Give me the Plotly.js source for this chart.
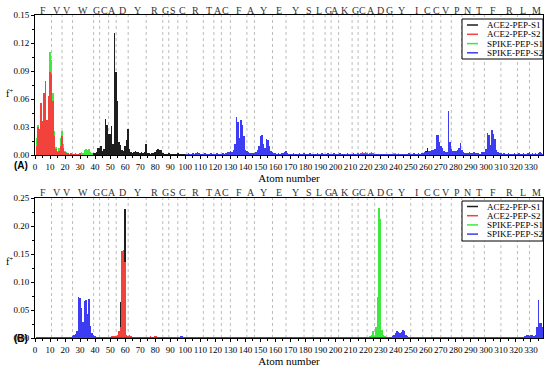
<!DOCTYPE html>
<html><head><meta charset="utf-8">
<script src="https://cdn.plot.ly/plotly-3.0.1.min.js"></script>
<style>html,body{margin:0;padding:0;background:#fff}#chart{width:550px;height:370px}</style>
</head><body><div id="chart"></div>
<script>
// Residue letters and atom-number boundaries between residues
const residues = ['F','V','V','W','G','C','A','D','Y','R','G','S','C','R','T','A','C','F','A','Y','E','Y','S','L','G','A','K','G','C','A','D','G','Y','I','C','C','V','P','N','T','F','R','L','M'];
const residueBounds = [0,11,18,25,39,43,49,54,62,74,85,89,95,101,112,119,124,130,141,146,158,167,179,185,193,197,202,211,215,221,226,234,238,250,258,264,270,277,284,292,299,310,321,329,338];
const seriesNames = ['ACE2-PEP-S1','ACE2-PEP-S2','SPIKE-PEP-S1','SPIKE-PEP-S2'];
const seriesColors = ['#1e1e1e','#f2423c','#3ee83e','#3c3cf2'];

// ---- Panel A: runs of consecutive atoms (start atom, values) ----
const topAce2S1Starts = [38, 256];
const topAce2S1F = [
 [0.001,0.002,0.002,0.003,0.008,0.007,0.010,0.004,0.006,0.039,0.032,0.023,0.023,0.031,0.012,0.131,0.089,0.058,0.014,0.011,
  0.005,0.004,0.010,0.016,0.028,0.006,0.003,0.002,0.003,0.004,0.003,0.003,0.002,0.003,0.002,0.003,0.012,0.002,0.002,0.001,
  0.002,0.002,0.003,0.005,0.006,0.005,0.005,0.002,0.001,0.001,0.001,0.002,0.001,0.001,0.001,0.001,0.001,0.002,0.001,0.001,
  0.001,0.001,0.001],
 [0.001,0.002,0.002,0.003,0.004,0.008,0.004,0.002,0.001]
];
const topAce2S2Starts = [1, 214];
const topAce2S2F = [
 [0.010,0.030,0.028,0.056,0.036,0.066,0.079,0.037,0.063,0.089,0.087,0.058,0.020,0.006,0.003,0.004,0.010,0.020,0.007,0.003,
  0.002,0.002,0.001,0.002,0.001,0.001,0.002,0.001,0.001,0.002],
 [0.001,0.002,0.001,0.002,0.003,0.002,0.003,0.002,0.001,0.002,0.003,0.002,0.001]
];
const topSpikeS1Starts = [1, 30, 238];
const topSpikeS1F = [
 [0.018,0.032,0.028,0.056,0.036,0.066,0.079,0.037,0.063,0.110,0.102,0.066,0.026,0.009,0.004,0.008,0.018,0.026,0.012,0.004,
  0.003,0.002],
 [0.002,0.003,0.002,0.005,0.006,0.005,0.006,0.003,0.002],
 [0.001,0.002,0.002,0.001,0.002,0.001]
];
const topSpikeS2Starts = [100];
const topSpikeS2F = [[
 0.001,0.001,0.002,0.001,0.001,0.002,0.001,0.002,0.003,0.002,
 0.001,0.001,0.001,0.002,0.001,0.001,0.001,0.002,0.001,0.001,
 0.001,0.002,0.001,0.001,0.001,0.002,0.001,0.002,0.003,0.003,
 0.004,0.003,0.005,0.012,0.041,0.035,0.018,0.038,0.032,0.020,
 0.005,0.004,0.003,0.002,0.002,0.002,0.002,0.003,0.005,0.010,
 0.020,0.021,0.012,0.008,0.017,0.016,0.010,0.004,0.003,0.002,
 0.002,0.001,0.002,0.001,0.002,0.002,0.003,0.004,0.002,0.001,
 0.001,0.001,0.002,0.001,0.001,0.001,0.002,0.001,0.001,0.002,
 0.001,0.001,0.001,0.002,0.001,0.001,0.001,0.001,0.002,0.001,
 0.001,0.002,0.001,0.001,0.001,0.002,0.001,0.001,0.001,0.002,
 0.001,0.001,0.001,0.002,0.001,0.001,0.001,0.001,0.002,0.001,
 0.001,0.001,0.002,0.001,0.001,0.001,0.001,0.001,0.001,0.001,
 0.001,0.001,0.001,0.001,0.001,0.001,0.001,0.001,0.001,0.001,
 0.001,0.001,0.001,0.001,0.001,0.001,0.001,0.001,0.001,0.001,
 0.001,0.001,0.001,0.001,0.001,0.001,0.001,0.001,0.001,0.002,
 0.001,0.001,0.002,0.001,0.001,0.002,0.001,0.002,0.002,0.003,
 0.003,0.003,0.004,0.004,0.005,0.005,0.006,0.021,0.021,0.014,
 0.010,0.007,0.004,0.003,0.003,0.047,0.014,0.006,0.004,0.004,
 0.004,0.005,0.008,0.013,0.005,0.003,0.002,0.002,0.002,0.003,
 0.002,0.002,0.003,0.002,0.002,0.002,0.001,0.003,0.003,0.003,
 0.006,0.024,0.021,0.011,0.027,0.022,0.017,0.005,0.003,0.002,
 0.002,0.001,0.002,0.001,0.001,0.002,0.001,0.001,0.001,0.002,
 0.001,0.001,0.002,0.001,0.001,0.002,0.001,0.001,0.002,0.003,
 0.001,0.002,0.001,0.002,0.001,0.002,0.003,0.002,0.001]];

// ---- Panel B ----
const botAce2S1Starts = [55];
const botAce2S1F = [[0.001,0.002,0.065,0.003,0.005,0.231,0.004,0.002]];
const botAce2S2Starts = [50];
const botAce2S2F = [[
 0.002,0.003,0.003,0.004,0.004,0.005,0.013,0.020,0.155,0.157,
 0.135,0.006,0.004,0.005,0.003,0.002,0.002,0.001,0.002,0.001,
 0.001,0.001,0.002,0.001,0.001,0.002,0.002,0.003,0.002,0.002,
 0.003,0.003,0.002,0.002,0.001,0.001]];
const botSpikeS1Starts = [218];
const botSpikeS1F = [[0.001,0.001,0.002,0.002,0.002,0.004,0.006,0.012,0.004,0.020,0.074,0.233,0.213,0.015,0.006,0.003,0.002,0.002,0.001]];
const botSpikeS2Starts = [1];
const botSpikeS2F = [[
 0.001,0.001,0.001,0.001,0.001,0.001,0.001,0.002,0.001,0.001,
 0.001,0.001,0.001,0.001,0.001,0.001,0.002,0.001,0.001,0.001,
 0.001,0.002,0.001,0.002,0.004,0.006,0.008,0.012,0.074,0.072,
 0.054,0.028,0.066,0.068,0.042,0.069,0.022,0.009,0.005,0.003,
 0.002,0.001,0.001,0.002,0.001,0.001,0.001,0.002,0.001,0.001,
 0.001,0.001,0.001,0.001,0.001,0.001,0.001,0.001,0.001,0.001,
 0.001,0.001,0.001,0.001,0.001,0.002,0.001,0.001,0.001,0.001,
 0.001,0.001,0.001,0.001,0.001,0.001,0.001,0.001,0.001,0.001,
 0.001,0.001,0.001,0.001,0.001,0.001,0.001,0.001,0.001,0.001,
 0.001,0.001,0.001,0.001,0.001,0.002,0.004,0.003,0.001,0.001,
 0.001,0.001,0.001,0.001,0.002,0.001,0.001,0.001,0.001,0.001,
 0.001,0.002,0.001,0.001,0.001,0.001,0.001,0.001,0.001,0.001,
 0.001,0.001,0.001,0.001,0.001,0.001,0.001,0.001,0.001,0.001,
 0.001,0.001,0.001,0.002,0.001,0.001,0.001,0.001,0.001,0.001,
 0.001,0.001,0.001,0.001,0.001,0.001,0.001,0.001,0.001,0.001,
 0.001,0.001,0.001,0.001,0.001,0.001,0.001,0.001,0.001,0.001,
 0.001,0.001,0.001,0.001,0.001,0.001,0.001,0.002,0.001,0.001,
 0.001,0.001,0.001,0.001,0.001,0.001,0.001,0.001,0.001,0.001,
 0.001,0.001,0.001,0.001,0.001,0.001,0.001,0.001,0.001,0.001,
 0.001,0.001,0.001,0.001,0.001,0.001,0.001,0.001,0.001,0.001,
 0.001,0.001,0.001,0.001,0.001,0.001,0.001,0.001,0.001,0.001,
 0.001,0.001,0.001,0.001,0.001,0.002,0.001,0.001,0.001,0.002,
 0.001,0.001,0.001,0.001,0.001,0.001,0.001,0.001,0.001,0.001,
 0.001,0.001,0.001,0.001,0.001,0.001,0.002,0.003,0.006,0.009,
 0.012,0.010,0.009,0.011,0.014,0.012,0.005,0.003,0.002,0.001,
 0.001,0.001,0.001,0.001,0.001,0.001,0.001,0.001,0.001,0.001,
 0.001,0.001,0.001,0.001,0.001,0.001,0.001,0.001,0.001,0.001,
 0.001,0.001,0.001,0.001,0.001,0.001,0.001,0.001,0.001,0.001,
 0.001,0.001,0.001,0.001,0.001,0.001,0.001,0.001,0.001,0.001,
 0.001,0.001,0.001,0.001,0.001,0.001,0.001,0.001,0.001,0.001,
 0.001,0.001,0.001,0.001,0.002,0.001,0.001,0.001,0.001,0.001,
 0.001,0.001,0.001,0.001,0.001,0.001,0.001,0.001,0.002,0.001,
 0.001,0.001,0.001,0.001,0.002,0.003,0.006,0.005,0.004,0.005,
 0.005,0.003,0.006,0.020,0.068,0.027,0.026,0.020]];

function expand(starts, runs){
  const x=[], y=[];
  runs.forEach((r,k)=>r.forEach((v,i)=>{x.push(starts[k]+i); y.push(v);}));
  return {x,y};
}
const SERIF = 'Liberation Serif';
const panels = [
  {xa:'x', ya:'y', letterPy:10, data:[[topAce2S1Starts,topAce2S1F],[topAce2S2Starts,topAce2S2F],[topSpikeS1Starts,topSpikeS1F],[topSpikeS2Starts,topSpikeS2F]]},
  {xa:'x2', ya:'y2', letterPy:193, data:[[botAce2S1Starts,botAce2S1F],[botAce2S2Starts,botAce2S2F],[botSpikeS1Starts,botSpikeS1F],[botSpikeS2Starts,botSpikeS2F]]}
];
const drawOrder = [0,2,1,3];
const traces = [];
panels.forEach(p=>{
  drawOrder.forEach(s=>{
    const d = expand(p.data[s][0], p.data[s][1]);
    traces.push({type:'bar', x:d.x, y:d.y, xaxis:p.xa, yaxis:p.ya, width:1,
      marker:{color:seriesColors[s], line:{width:0}}, showlegend:false, name:seriesNames[s], hoverinfo:'x+y'});
  });
});

const centers = residues.map((r,i)=>(residueBounds[i]+residueBounds[i+1])/2);
const innerBounds = residueBounds.slice(1,-1);

// layout geometry (paper fractions)
const L=35, R=7, T=15, B=32, W=550, H=370;
const pw=W-L-R, ph=H-T-B;
const px2x = px=>(px-L)/pw;
const py2y = py=>(H-B-py)/ph;

function xMain(anchor, title){
  return {anchor:anchor, domain:[0,1], range:[0,338], dtick:10, tick0:0, tickangle:0, ticks:'outside', ticklen:3, tickwidth:1,
    tickcolor:'#000', showline:true, linecolor:'#000', linewidth:1, mirror:true, showgrid:false, zeroline:false,
    tickfont:{family:SERIF,size:9,color:'#000'},
    minor:{dtick:5, ticks:'outside', ticklen:2, tickcolor:'#000'},
    title:{text:title, font:{family:SERIF,size:11,color:'#000'}, standoff:1}};
}
function yMain(anchor, domain, range, dtick){
  return {anchor:anchor, domain:domain, range:range, dtick:dtick, tick0:0, tickformat:'.2f', ticks:'outside', ticklen:3,
    tickcolor:'#000', showline:true, linecolor:'#000', linewidth:1, mirror:true, showgrid:false, zeroline:false,
    tickfont:{family:SERIF,size:9,color:'#000'},
    minor:{dtick:dtick/2, ticks:'outside', ticklen:2, tickcolor:'#000'}};
}

const topDom=[py2y(155), 1], botDom=[0, py2y(198)];
const shapes=[], annotations=[];
// residue separators and residue letters
panels.forEach(p=>{
  innerBounds.forEach(b=>{
    shapes.push({type:'line', xref:p.xa, yref:p.ya+' domain', x0:b, x1:b, y0:0, y1:1,
      line:{color:'#bcbcbc', width:1, dash:'dot'}, layer:'below'});
  });
  residues.forEach((r,i)=>{
    annotations.push({xref:p.xa, yref:'paper', x:centers[i], y:py2y(p.letterPy), yanchor:'middle', xanchor:'center',
      text:r, showarrow:false, font:{family:SERIF,size:10,color:'#333'}});
  });
});
// legends drawn as boxed keys
const legendBoxes = [
  {x0:462, x1:543, y0:19, y1:59, rows:[25,34.3,43.6,52.8]},
  {x0:462, x1:543, y0:201, y1:241, rows:[206.5,215.7,224.9,234.1]}
];
legendBoxes.forEach(lb=>{
  shapes.push({type:'rect', xref:'paper', yref:'paper', x0:px2x(lb.x0), x1:px2x(lb.x1), y0:py2y(lb.y1), y1:py2y(lb.y0),
    line:{color:'#000', width:1}, fillcolor:'#fff', layer:'above'});
  lb.rows.forEach((ry,i)=>{
    shapes.push({type:'line', xref:'paper', yref:'paper', x0:px2x(467), x1:px2x(478), y0:py2y(ry), y1:py2y(ry),
      line:{color:seriesColors[i], width:1.5}, layer:'above'});
    annotations.push({xref:'paper', yref:'paper', x:px2x(486), y:py2y(ry), xanchor:'left', yanchor:'middle', borderpad:0,
      text:seriesNames[i], showarrow:false, font:{family:SERIF,size:9,color:'#000'}});
  });
});
annotations.push({xref:'paper', yref:'paper', x:px2x(5), y:py2y(86), borderpad:0, text:'f<sup>+</sup>', showarrow:false, font:{family:SERIF,size:10,color:'#000'}});
annotations.push({xref:'paper', yref:'paper', x:px2x(5), y:py2y(268), borderpad:0, text:'f<sup>+</sup>', showarrow:false, font:{family:SERIF,size:10,color:'#000'}});
annotations.push({xref:'paper', yref:'paper', x:px2x(12), y:py2y(165), text:'<b>(A)</b>', showarrow:false, font:{family:'Liberation Sans',size:10,color:'#000'}});
annotations.push({xref:'paper', yref:'paper', x:px2x(12), y:py2y(346), text:'<b>(B)</b>', showarrow:false, font:{family:'Liberation Sans',size:10,color:'#000'}});

const layout = {
  width:W, height:H, margin:{l:L, r:R, t:T, b:B}, paper_bgcolor:'#fff', plot_bgcolor:'#fff',
  barmode:'overlay', bargap:0, showlegend:false, font:{family:SERIF, color:'#000'},
  xaxis: xMain('y','Atom number'),
  yaxis: yMain('x', topDom, [0,0.15], 0.03),
  xaxis2: xMain('y2','Atom number'),
  yaxis2: yMain('x2', botDom, [0,0.25], 0.05),
  shapes:shapes, annotations:annotations
};
Plotly.newPlot('chart', traces, layout, {displayModeBar:false, staticPlot:true});
</script></body></html>
